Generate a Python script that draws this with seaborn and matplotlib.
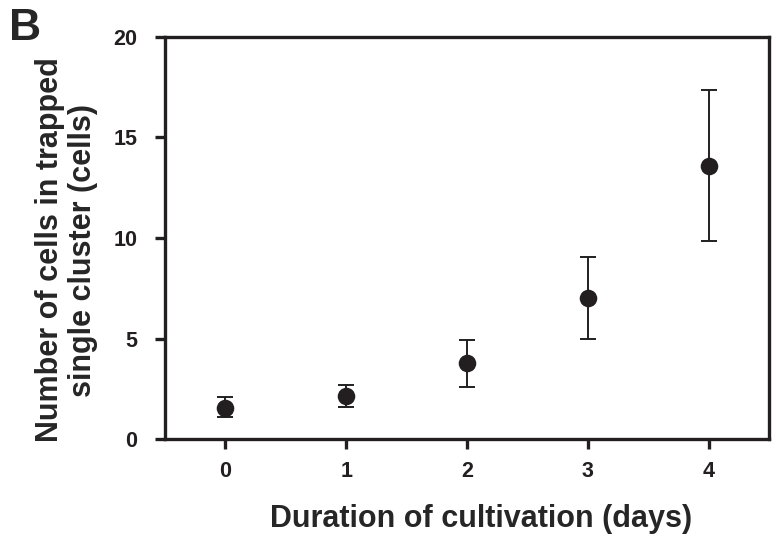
import matplotlib
matplotlib.use('Agg')
import matplotlib.pyplot as plt
import seaborn as sns
import pandas as pd

dias = [0, 1, 2, 3, 4]
celulas_media = [1.56, 2.15, 3.77, 7.0, 13.58]
celulas_err_inf = [0.46, 0.54, 1.17, 2.04, 3.73]
celulas_err_sup = [0.54, 0.55, 1.16, 2.07, 3.77]

df = pd.DataFrame({'dia': dias, 'celulas': celulas_media})

sns.set_style('ticks')
plt.rcParams['font.family'] = ['Liberation Sans', 'DejaVu Sans']
plt.rcParams['font.weight'] = 'bold'

color = '#231f20'
fig = plt.figure(figsize=(7.78, 5.44), dpi=100)
ax = fig.add_axes([0.2121, 0.193, 0.7763, 0.739])

ax.errorbar(df['dia'], df['celulas'], yerr=[celulas_err_inf, celulas_err_sup],
            fmt='none', ecolor=color, elinewidth=1.4, capsize=6, capthick=1.4, zorder=2)
sns.scatterplot(data=df, x='dia', y='celulas', ax=ax, s=160, color=color,
                edgecolor=color, linewidth=0, zorder=3, legend=False)

ax.set_xlim(-0.5, 4.5)
ax.set_ylim(0, 20)
ax.set_xticks(dias)
ax.set_yticks([0, 5, 10, 15, 20])
for s in ax.spines.values():
    s.set_linewidth(2.4)
    s.set_color(color)
ax.tick_params(axis='both', direction='out', length=7, width=2.4, color=color,
               labelsize=15.5, labelcolor=color)
ax.tick_params(axis='y', pad=13)
ax.tick_params(axis='x', pad=9)
for lbl in ax.get_xticklabels() + ax.get_yticklabels():
    lbl.set_fontweight('bold')

ax.set_xlabel('Duration of cultivation (days)', fontsize=22, fontweight='bold', labelpad=16)
ax.set_ylabel('Number of cells in trapped\nsingle cluster (cells)', fontsize=22,
              fontweight='bold', labelpad=11, linespacing=1.12)
ax.xaxis.label.set_x(0.523)
ax.yaxis.label.set_y(0.47)
fig.text(0.012, 0.985, 'B', fontsize=32, fontweight='bold', va='top', ha='left')

fig.savefig('out.png', dpi=100)
